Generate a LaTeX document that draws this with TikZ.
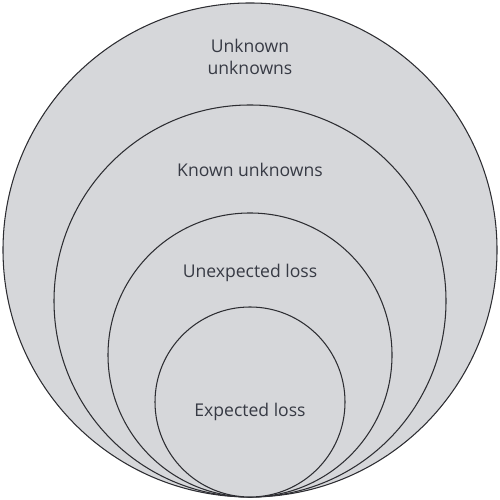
\documentclass[tikz,border=0pt]{standalone}
\usepackage{fontspec}
\setmainfont{Open Sans}
\usetikzlibrary{positioning}
\definecolor{ringgray}{RGB}{214,215,218}
\definecolor{ringline}{RGB}{45,45,50}
\definecolor{labeltext}{RGB}{55,58,68}
\begin{document}
\begin{tikzpicture}
    \tikzset{ring/.style={circle,draw=ringline,line width=0.6pt,fill=ringgray,inner sep=0pt},
             ringlabel/.style={text=labeltext,font=\fontsize{10}{13}\selectfont,align=center}}
    \useasboundingbox (0,0) rectangle (10,10);
    % nested rings, all touching at the bottom
    \node[ring,minimum size=9.88cm] (unkunk) at (5,5) {};
    \node[ring,minimum size=7.84cm] (knownunk) at (5,3.98) {};
    \node[ring,minimum size=5.68cm] (unexp) at (5,2.90) {};
    \node[ring,minimum size=3.80cm] (exp) at (5,1.96) {};
    \node[ringlabel] (unkunklbl) at (5,8.86) {Unknown\\unknowns};
    \node[ringlabel] (knownunklbl) at (5,6.60) {Known unknowns};
    \node[ringlabel] (unexplbl) at (5,4.54) {Unexpected loss};
    \node[ringlabel] (explbl) at (5,1.76) {Expected loss};
\end{tikzpicture}
\end{document}
